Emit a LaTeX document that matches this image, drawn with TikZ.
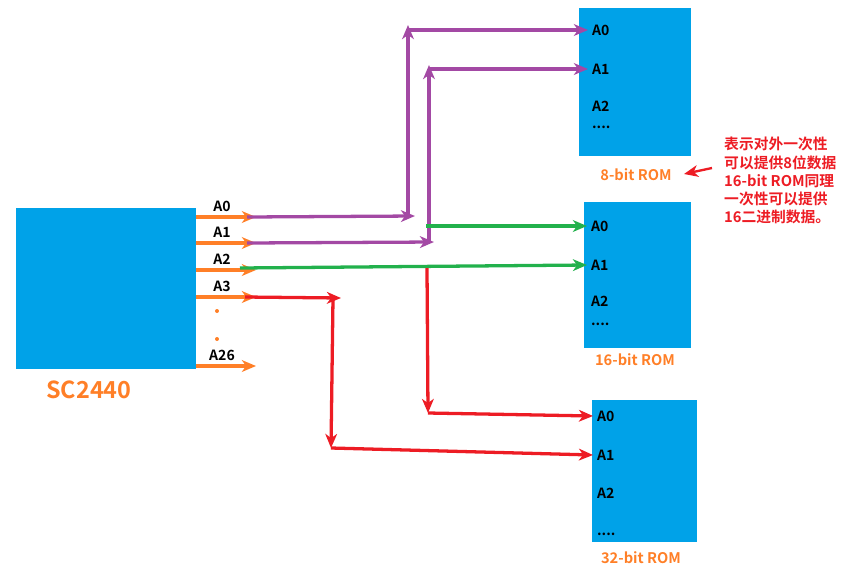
\documentclass[tikz,border=0pt]{standalone}
\usepackage{fontspec}
\setmainfont{Noto Sans CJK SC}[BoldFont={Noto Sans CJK SC Bold}]
\usetikzlibrary{arrows.meta}

\begin{document}
\begin{tikzpicture}[x=0.03cm, y=-0.03cm,
    wire/.style={line width=2.8pt, -{Stealth[length=12pt, width=10pt, inset=3.5pt]}},
    chip/.style={fill=chipBlue, inner sep=0pt, anchor=north west},
    pinname/.style={font=\bfseries\fontsize{12}{13}\selectfont},
    romname/.style={font=\bfseries\fontsize{12.5}{14}\selectfont, text=pinOrange}]
    \definecolor{chipBlue}{HTML}{00A2E8}
    \definecolor{pinOrange}{HTML}{FF7F27}
    \definecolor{busPurple}{HTML}{A349A4}
    \definecolor{busGreen}{HTML}{22B14C}
    \definecolor{busRed}{HTML}{ED1C24}

    \useasboundingbox (0,0) rectangle (841,574);

    % Draw chips
    \node[chip, minimum width=5.4cm, minimum height=4.83cm] (soc) at (16,208) {};
    \node[chip, minimum width=3.36cm, minimum height=4.44cm] (rom8) at (579,8) {};
    \node[chip, minimum width=3.21cm, minimum height=4.38cm] (rom16) at (584,202) {};
    \node[chip, minimum width=3.15cm, minimum height=4.26cm] (rom32) at (592,400) {};

    % Label chips
    \node[font=\bfseries\fontsize{20}{22}\selectfont, text=pinOrange] (socname) at (89,390) {SC2440};
    \node[romname] (rom8name) at (636,175) {8-bit ROM};
    \node[romname] (rom16name) at (635,360) {16-bit ROM};
    \node[romname] (rom32name) at (641,558) {32-bit ROM};

    % Address pins inside the ROMs
    \foreach \rom/\x/\ya/\yb/\yc/\yd in {r8/588/30/69/106/127, r16/587/226/265/301/324, r32/593/416/455/493/534} {
        \node[pinname, anchor=west] (\rom a0) at (\x,\ya) {A0};
        \node[pinname, anchor=west] (\rom a1) at (\x,\yb) {A1};
        \node[pinname, anchor=west] (\rom a2) at (\x,\yc) {A2};
        \node[pinname, anchor=west] (\rom dots) at (\x,\yd) {....};
    }

    % Draw SC2440 address pins
    \foreach \pin/\y in {A0/217, A1/243, A2/270, A3/297, A26/366} {
        \coordinate (s\pin) at (soc.east |- 0,\y);
        \coordinate (t\pin) at (256,\y);
        \draw[wire, pinOrange] (s\pin) -- (t\pin);
        \node[pinname, above=1pt] at (222,\y) {\pin};
    }
    \fill[pinOrange] (217,311) circle (1.7pt) (217,339) circle (1.7pt);

    % Define junctions
    \coordinate (p0) at (247,217);
    \coordinate (p0end) at (415,216);
    \coordinate (p0up) at (408,216);
    \coordinate (p0top) at (408,25);
    \coordinate (p0turn) at (408,30);
    \coordinate (p1) at (247,243);
    \coordinate (p1end) at (434,242);
    \coordinate (p1up) at (429,242);
    \coordinate (p1top) at (429,65);
    \coordinate (p1turn) at (429,69);
    \coordinate (g0) at (426,226);
    \coordinate (g1) at (240,268);
    \coordinate (g1down) at (427,268);
    \coordinate (g1bot) at (428,413);
    \coordinate (q3) at (245,297);
    \coordinate (q3end) at (341,298);
    \coordinate (q3down) at (333,298);
    \coordinate (q3bot) at (331,448);

    % Draw 8-bit ROM bus
    \draw[wire, busPurple] (p0) -- (p0end);
    \draw[wire, busPurple] (p0up) -- (p0top);
    \draw[wire, busPurple] (p0turn) -- (r8a0.west);
    \draw[wire, busPurple] (p1) -- (p1end);
    \draw[wire, busPurple] (p1up) -- (p1top);
    \draw[wire, busPurple] (p1turn) -- (r8a1.west);

    % Draw 16-bit ROM bus
    \draw[wire, busGreen] (g0) -- (r16a0.west);
    \draw[wire, busGreen] (g1) -- (r16a1.west);

    % Draw 32-bit ROM bus
    \draw[wire, busRed] (q3) -- (q3end);
    \draw[wire, busRed] (q3down) -- (q3bot);
    \draw[wire, busRed] (q3bot) -- (r32a1.west);
    \draw[wire, busRed] (g1down) -- (g1bot);
    \draw[wire, busRed] (g1bot) -- (r32a0.west);

    % Note
    \node[anchor=north west, align=left, inner sep=0pt, text=busRed,
          font=\bfseries\fontsize{12.6}{15.6}\selectfont] (note) at (724,137)
        {表示对外一次性\\可以提供8位数据\\16-bit ROM同理\\一次性可以提供\\16二进制数据。};
    \coordinate (notetail) at (712,168);
    \draw[wire, busRed, line width=2pt] (notetail) -- (684,174);

\end{tikzpicture}
\end{document}
